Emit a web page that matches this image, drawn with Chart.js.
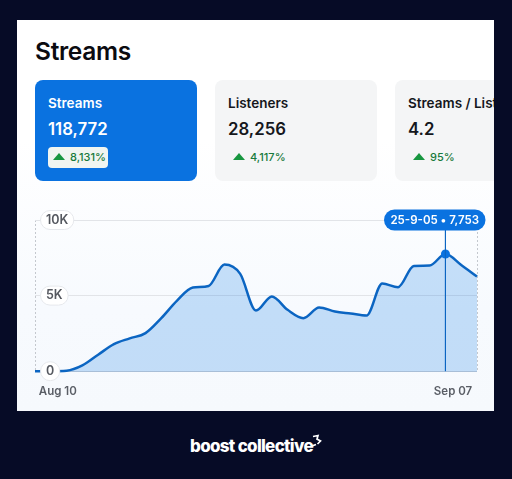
<!DOCTYPE html>
<html><head><meta charset="utf-8">
<script src="https://cdn.jsdelivr.net/npm/chart.js@4"></script>
<style>
html,body{margin:0;padding:0;width:512px;height:479px;overflow:hidden;background:#060b26;font-family:Inter,"Noto Sans",sans-serif}
#panel{position:absolute;left:17px;top:20px;width:477px;height:391px;overflow:hidden;background:linear-gradient(#fff 0,#fff 120px,#f7fafe 290px,#f6f9fd 100%)}
h1{position:absolute;left:18px;top:15px;margin:0;font-size:24.5px;line-height:32px;font-weight:600;color:#0b0b10;letter-spacing:-.3px}
.card{position:absolute;top:60px;width:162px;height:101px;border-radius:8px;background:#f4f5f6;color:#15171c}
.card.on{background:#0a72e0;color:#fff}
.lab{position:absolute;left:13px;top:14px;font-size:13.5px;line-height:18px;font-weight:600;white-space:nowrap}
.val{position:absolute;left:13px;top:37px;font-size:16.8px;line-height:24px;font-weight:600;white-space:nowrap}
.bdg{position:absolute;left:13px;top:67px;height:21px;padding:0 2px 0 22px;border-radius:4px;font-size:11px;line-height:21px;font-weight:500;color:#177a3c;white-space:nowrap}
.on .bdg{background:#f0f5f1}
.bdg i{position:absolute;left:5px;top:6px;width:0;height:0;border-left:6.5px solid transparent;border-right:6.5px solid transparent;border-bottom:7px solid #17963f}
#c{position:absolute;left:0;top:0}
#brand{position:absolute;left:190px;top:435px;font-size:17px;line-height:22px;font-weight:800;color:#fff;letter-spacing:-.7px;white-space:nowrap}
#mark{position:absolute;left:311px;top:434px}
</style></head><body>
<div id="panel">
<h1>Streams</h1>
<div class="card on" style="left:18px"><div class="lab">Streams</div><div class="val">118,772</div><div class="bdg"><i></i>8,131%</div></div>
<div class="card" style="left:198px"><div class="lab">Listeners</div><div class="val">28,256</div><div class="bdg"><i></i>4,117%</div></div>
<div class="card" style="left:378px"><div class="lab">Streams / Listener</div><div class="val">4.2</div><div class="bdg"><i></i>95%</div></div>
</div>
<canvas id="c" width="512" height="411"></canvas>
<div id="brand">boost collective</div>
<svg id="mark" width="12" height="14" viewBox="0 0 12 14"><path d="M2 2.5 L7 1.5 L6 5 L9.5 7 L6.5 10 M1 12 L5 10.5" fill="none" stroke="#fff" stroke-width="1.7"/></svg>
<script>
const dates = ["Aug 10","Aug 11","Aug 12","Aug 13","Aug 14","Aug 15","Aug 16","Aug 17","Aug 18","Aug 19","Aug 20","Aug 21","Aug 22","Aug 23","Aug 24","Aug 25","Aug 26","Aug 27","Aug 28","Aug 29","Aug 30","Aug 31","Sep 01","Sep 02","Sep 03","Sep 04","Sep 05","Sep 06","Sep 07"];
const streams = [0,0,30,380,1090,1790,2170,2520,3510,4670,5530,5640,7050,6435,4010,4940,4060,3510,4210,3950,3815,3680,5800,5560,6960,6985,7753,7030,6260];
const yTickValues = [0,5000,10000];
const yTickLabels = ["0","5K","10K"];
const markedIndex = 26;
const markedLabel = "25-9-05";

const BLUE = "#0a72e0", LINE = "#0b65c2";
const font = {family:"Inter, 'Noto Sans', sans-serif", size:12, weight:"600"};

const overlay = {
  id:"overlay",
  afterDatasetsDraw(chart){
    const {ctx, scales:{x,y}} = chart;
    ctx.save();
    const px = x.getPixelForValue(markedIndex);
    ctx.strokeStyle = LINE; ctx.lineWidth = 1.2;
    ctx.beginPath(); ctx.moveTo(px, y.getPixelForValue(10000)); ctx.lineTo(px, y.getPixelForValue(0)); ctx.stroke();
    ctx.font = `600 12.5px ${font.family}`;
    yTickValues.forEach((v,i)=>{
      const w = ctx.measureText(yTickLabels[i]).width + 11, py = y.getPixelForValue(v);
      ctx.beginPath(); ctx.roundRect(x.left+5.5, py-9.5, w, 19, 9.5);
      ctx.fillStyle = "#fff"; ctx.fill();
      ctx.strokeStyle = "#e6e8ec"; ctx.lineWidth = 1; ctx.stroke();
    });
    ctx.restore();
  },
  afterDraw(chart){
    const {ctx, scales:{y}} = chart;
    const top = y.getPixelForValue(10000);
    ctx.save();
    ctx.beginPath(); ctx.roundRect(384, top-10.5, 101.5, 21, 10.5);
    ctx.fillStyle = BLUE; ctx.fill();
    ctx.fillStyle = "#fff"; ctx.font = `600 11.5px ${font.family}`;
    ctx.textAlign = "center"; ctx.textBaseline = "middle";
    ctx.fillText(markedLabel + " \u2022 " + streams[markedIndex].toLocaleString("en-US"), 434.7, top+0.5);
    ctx.restore();
  }
};

new Chart(document.getElementById("c"), {
  type:"line",
  data:{labels:dates, datasets:[{
    data:streams,
    borderColor:LINE, borderWidth:2.5,
    backgroundColor:"rgba(0,113,227,.21)", fill:"origin",
    cubicInterpolationMode:"monotone",
    pointRadius:c=>c.dataIndex===markedIndex?4.5:0,
    pointBackgroundColor:BLUE, pointBorderWidth:0,
    clip:false
  }]},
  options:{
    responsive:false, animation:false, devicePixelRatio:1,
    layout:{padding:{left:35,right:35,top:220,bottom:0}},
    plugins:{legend:{display:false},tooltip:{enabled:false}},
    scales:{
      x:{
        border:{display:false,dash:[2,2]},
        grid:{drawTicks:false,color:c=>(c.index===0||c.index===dates.length-1)?"#c4c8ce":"transparent"},
        ticks:{autoSkip:false,maxRotation:0,align:"inner",padding:13,color:"#5a5e66",font:{...font,size:11.5},
          callback(v,i){return i===0?"\u00A0\u200A"+dates[i]:i===dates.length-1?dates[i]+"\u00A0\u2009":"";}}
      },
      y:{
        min:0,max:10000,
        afterBuildTicks(s){s.ticks=yTickValues.map(value=>({value}));},
        afterFit(s){s.width=0;},
        border:{display:false},
        grid:{drawTicks:false,color:c=>c.tick.value===0?"#a9bfd8":"#e2e4e8"},
        ticks:{mirror:true,padding:11,z:1,color:"#55585f",font:{...font,size:12.5},
          callback(v){return yTickLabels[yTickValues.indexOf(v)];}}
      }
    }
  },
  plugins:[overlay]
});
</script>
</body></html>
